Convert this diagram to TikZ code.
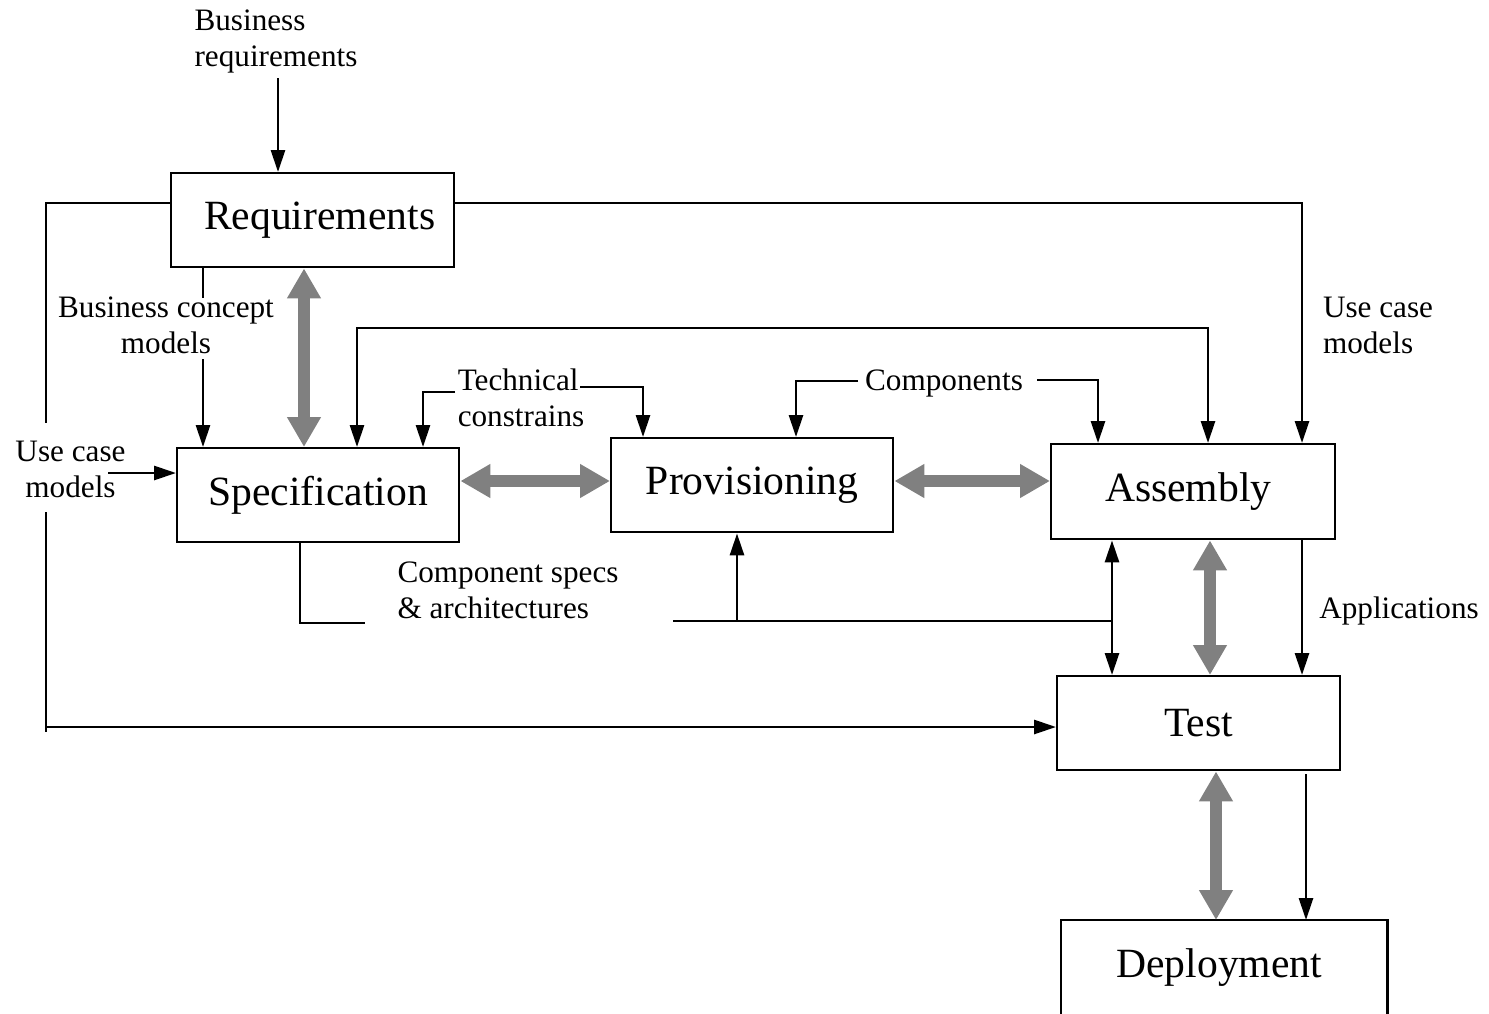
\documentclass[tikz,border=0pt]{standalone}
\usepackage{fontspec}
\setmainfont{Liberation Serif}
\usetikzlibrary{arrows.meta,calc}
\newcommand\boxfnt{\fontsize{20.8pt}{24pt}\selectfont}
\newcommand\lblfnt{\fontsize{15.6pt}{18pt}\selectfont}
\definecolor{flowgray}{HTML}{808080}
\begin{document}
\begin{tikzpicture}[x=0.5pt,y=-0.5pt,
  stage/.style={draw,line width=1.2pt,inner sep=0pt,anchor=north west,
    minimum height=47pt,font=\boxfnt},
  lbl/.style={inner sep=0pt,font=\lblfnt},
  ln/.style={line width=1.4pt},
  arr/.style={line width=1.4pt,-{Triangle[length=11pt,width=7pt]}},
  dbl/.style={line width=1.4pt,{Triangle[length=11pt,width=7pt]}-{Triangle[length=11pt,width=7pt]}},
  garr/.style={line width=6pt,draw=flowgray,
    {Triangle[length=15pt,width=16pt]}-{Triangle[length=15pt,width=16pt]}}]
\useasboundingbox (0,0) rectangle (1489,1013);

% stages
\node[stage,minimum width=141.5pt] (req)  at (170,172)  {\hspace*{7pt}Requirements};
\node[stage,minimum width=141pt]   (spec) at (176,447)  {Specification};
\node[stage,minimum width=141pt]   (prov) at (610,437)  {Provisioning};
\node[stage,minimum width=142pt,minimum height=47.5pt] (asm) at (1050,443) {Assembly\hspace*{5pt}};
\node[stage,minimum width=141.5pt] (test) at (1056,675) {Test};
\node[stage,draw=none,minimum width=162pt,minimum height=46.5pt] (dep) at (1061,920) {Deployment\hspace*{5pt}};
\draw[line width=1.2pt] (dep.south west) -- (dep.north west) -- (dep.north east) -- (dep.south east);

% labels
\node[lbl,align=left]   (br)  at (276,41)    {Business\\requirements};
\node[lbl,align=center] (bcm) at (166,325)   {Business concept\\models};
\node[lbl,align=left]   (tc)  at (521,397.5) {Technical\\constrains};
\node[lbl]              (cmp) at (944,383)   {Components};
\node[lbl,align=left]   (ucr) at (1378,325.5){Use case\\models};
\node[lbl,align=center] (ucl) at (70.5,469.5){Use case\\models};
\node[lbl,align=left]   (cs)  at (508,590)   {Component specs\\\& architectures};
\node[lbl]              (app) at (1399,611)  {Applications};

% business requirements into requirements
\coordinate (brA) at (278,78);
\draw[arr] (brA) -- (brA |- req.north);

% use case models routed round the left side to test
\coordinate (lA) at (46,423);
\draw[ln] ($(req.north west)+(0,31)$) -| (lA);
\coordinate (lB) at (46,512);
\coordinate (lC) at (46,732);
\coordinate (lD) at (46,727);
\draw[ln] (lB) -- (lC);
\draw[arr] (lD) -- (lD -| test.west);

% use case models to assembly
\draw[arr] ($(req.north east)+(0,31)$) -| ($(asm.north west)+(252,0)$);

% business concept models
\draw[ln] ($(req.south west)+(33,0)$) -- ++(0,30);
\coordinate (bA) at (203,359);
\draw[arr] (bA) -- (bA |- spec.north);

% specification <-> assembly loop
\coordinate (loop) at (357,328);
\draw[dbl] (loop |- spec.north) -- (loop) -| ($(asm.north west)+(158,0)$);

% technical constrains
\coordinate (tA) at (455,392);
\draw[arr] (tA) -| ($(spec.north west)+(247,0)$);
\coordinate (tB) at (580,387);
\draw[arr] (tB) -| ($(prov.north west)+(33,0)$);

% components
\coordinate (kA) at (858,381);
\draw[arr] (kA) -| ($(prov.north west)+(186,0)$);
\coordinate (kB) at (1037,380);
\draw[arr] (kB) -| ($(asm.north west)+(48,0)$);

% use case models into specification
\coordinate (uA) at (108,473);
\draw[arr] (uA) -- (uA -| spec.west);

% component specs & architectures
\coordinate (cA) at (365,623);
\draw[ln] ($(spec.south west)+(124,0)$) |- (cA);
\coordinate (cB) at (673,621);
\coordinate (cJ) at (1112,621);
\coordinate (cP) at (737,621);
\draw[ln] (cB) -- (cJ);
\draw[arr] (cP) -- (cP |- prov.south);
\draw[dbl] (cJ |- asm.south) -- (cJ |- test.north);

% applications
\draw[arr] ($(asm.south west)+(252,0)$) -- ($(test.north west)+(246,0)$);
\draw[arr] ($(test.south west)+(250,3)$) -- ($(dep.north west)+(245,0)$);

% iteration arrows between stages
\draw[garr] ($(req.south west)+(134,0)$) -- ($(spec.north west)+(128,0)$);
\draw[garr] ($(spec.north east)+(0,34)$) -- ($(prov.north west)+(0,44)$);
\draw[garr] ($(prov.north east)+(0,44)$) -- ($(asm.north west)+(0,38)$);
\draw[garr] ($(asm.south west)+(160,0)$) -- ($(test.north west)+(154,0)$);
\draw[garr] ($(test.south west)+(160,0)$) -- ($(dep.north west)+(155,0)$);
\end{tikzpicture}
\end{document}
